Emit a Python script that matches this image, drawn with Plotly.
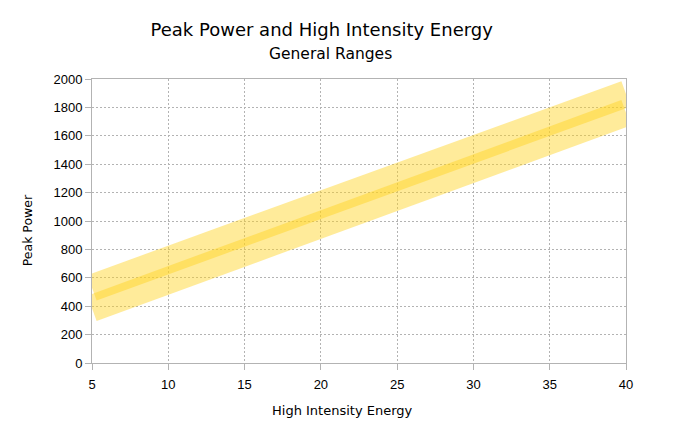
import plotly.graph_objects as go

# Data
energy = [5, 40]
upper_range = [530, 1895]
lower_range = [385, 1762]
x_ticks = [5, 10, 15, 20, 25, 30, 35, 40]
y_ticks = [0, 200, 400, 600, 800, 1000, 1200, 1400, 1600, 1800, 2000]

band_color = "rgba(255, 211, 32, 0.45)"
grid = "#b3b3b3"

# page has an 8px body margin, so the figure is sized/offset to compensate
W, H = 682, 426
L, T, R, B = 84, 71, 64, 71
PW, PH = W - L - R, H - T - B


def px(xp):  # page x -> paper x
    return (xp - 8 - L) / PW


def py(yp):  # page y -> paper y
    return (H - B - (yp - 8)) / PH


fig = go.Figure()
fig.add_trace(go.Scatter(x=energy, y=upper_range, mode="lines",
                         line=dict(color=band_color, width=27), hoverinfo="skip"))
fig.add_trace(go.Scatter(x=energy, y=lower_range, mode="lines",
                         line=dict(color=band_color, width=27), hoverinfo="skip"))

axis_common = dict(showline=True, mirror=True, linecolor=grid, linewidth=1,
                   showgrid=True, gridcolor=grid, griddash="2px,2px", gridwidth=1,
                   ticks="outside", ticklen=6, tickcolor=grid, zeroline=False,
                   tickfont=dict(family="Liberation Sans", size=13, color="black"))

fig.update_layout(
    width=W, height=H,
    margin=dict(l=L, r=R, t=T, b=B, pad=0),
    paper_bgcolor="white", plot_bgcolor="white",
    showlegend=False,
    font=dict(family="DejaVu Sans", color="black"),
    title=dict(text="Peak Power and High Intensity Energy",
               font=dict(family="DejaVu Sans", size=18, color="black"),
               x=(321.7 - 8) / W, xanchor="center", xref="container",
               y=1 - (30 - 8) / H, yanchor="middle", yref="container"),
    xaxis=dict(range=[5, 40], tickvals=x_ticks, ticktext=[str(v) for v in x_ticks],
               ticklabelstandoff=3, **axis_common),
    yaxis=dict(range=[0, 2000], tickvals=y_ticks, ticktext=[str(v) for v in y_ticks],
               **axis_common),
    annotations=[
        dict(text="General Ranges", xref="paper", yref="paper",
             x=px(330), y=py(54), xanchor="center", yanchor="middle",
             showarrow=False, font=dict(family="DejaVu Sans", size=15.5, color="black")),
        dict(text="High Intensity Energy", xref="paper", yref="paper",
             x=px(342.7), y=py(410), xanchor="center", yanchor="middle",
             showarrow=False, font=dict(family="DejaVu Sans", size=13, color="black")),
        dict(text="Peak Power", xref="paper", yref="paper", textangle=-90,
             x=px(27.3), y=py(230), xanchor="center", yanchor="middle",
             showarrow=False, font=dict(family="DejaVu Sans", size=12.5, color="black")),
    ],
)

fig.write_html("out.html")
